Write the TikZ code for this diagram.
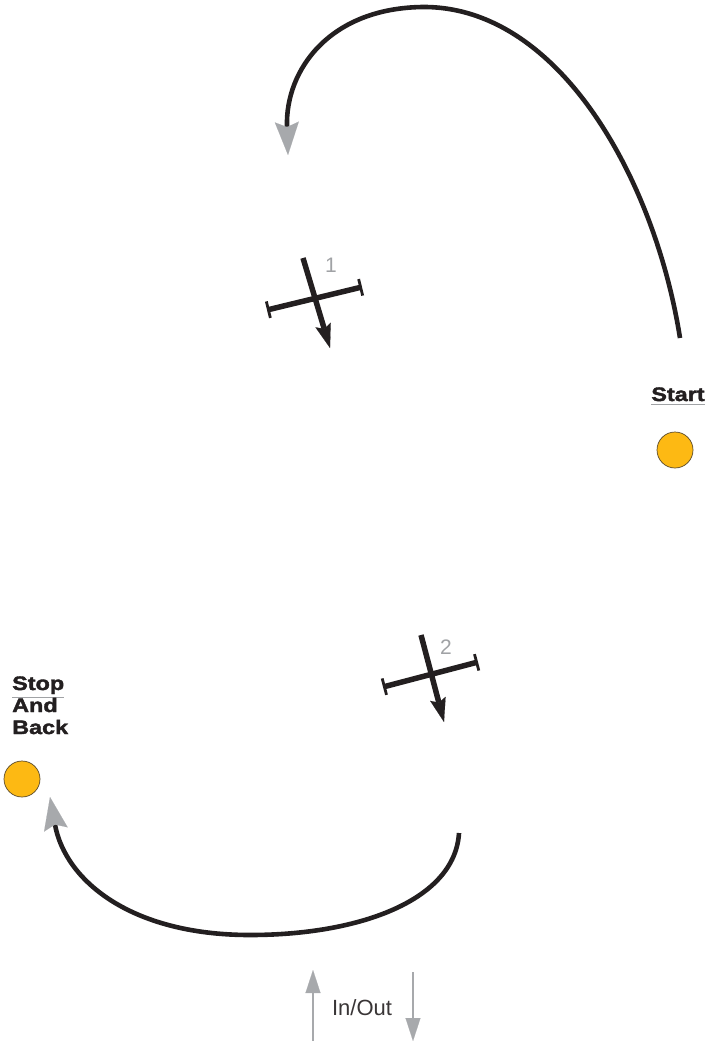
\documentclass[tikz,border=0pt]{standalone}
\usepackage{fontspec}
\setmainfont{Liberation Sans}
\newfontfamily\lblfont[FakeStretch=1.2, BoldFeatures={FakeBold=2}]{Liberation Sans}
\usetikzlibrary{arrows.meta}
\definecolor{curveblack}{HTML}{231F20}
\definecolor{arrgray}{HTML}{A7A9AC}
\definecolor{dotorange}{HTML}{FDB913}
\definecolor{dotedge}{HTML}{5A4A2A}
\definecolor{numgray}{HTML}{A0A2A5}
\tikzset{
  bigcurve/.style={draw=curveblack, line width=4.6pt,
    -{Stealth[length=33pt,width=24pt,inset=5pt,line width=0.1pt,fill=arrgray,color=arrgray]}},
  crossaxis/.style={draw=curveblack, line width=5.5pt,
    -{Stealth[length=24pt,width=16pt,inset=4pt,line width=0.1pt,fill=curveblack,color=curveblack]}},
  crossbar/.style={draw=curveblack, line width=5.5pt,
    {Bar[width=17pt,line width=2.8pt]}-{Bar[width=17pt,line width=2.8pt]}},
  inout/.style={draw=arrgray, line width=2.6pt,
    -{Triangle[length=23pt,width=15pt,line width=0.1pt,fill=arrgray,color=arrgray]}},
  dot/.style={circle, minimum size=36pt, inner sep=0pt, fill=dotorange, draw=dotedge, line width=0.7pt},
  biglabel/.style={font=\lblfont\fontsize{19.5pt}{22pt}\selectfont\bfseries, text=curveblack, inner sep=0pt},
  numlabel/.style={font=\fontsize{21pt}{22pt}\selectfont, text=numgray, inner sep=0pt},
  ulineline/.style={draw=numgray, line width=1.5pt},
}
\begin{document}
\begin{tikzpicture}[x=1pt,y=-1pt]
\useasboundingbox (0,0) rectangle (710,1041);
% top curve
\coordinate (topstart) at (680,338);
\coordinate (toptop) at (425,7);
\coordinate (topend) at (288,155);
\draw[bigcurve] (topstart) .. controls (655,180) and (560,8) .. (toptop)
   .. controls (330,7) and (285,70) .. (topend);
% bottom curve
\coordinate (botstart) at (459,833);
\coordinate (botlow) at (250,935);
\coordinate (botend) at (50,797);
\draw[bigcurve] (botstart) .. controls (455,900) and (360,935) .. (botlow)
   .. controls (130,935) and (65,880) .. (botend);
% cross 1
\coordinate (c1top) at (303,258);
\coordinate (c1tip) at (330,348);
\coordinate (c1left) at (267,310);
\coordinate (c1right) at (362,287);
\draw[crossbar] (c1left) -- (c1right);
\draw[crossaxis] (c1top) -- (c1tip);
\node[numlabel] (n1) at (331,265) {1};
% cross 2
\coordinate (c2top) at (421,635);
\coordinate (c2tip) at (444,722);
\coordinate (c2left) at (383,687);
\coordinate (c2right) at (478,662);
\draw[crossbar] (c2left) -- (c2right);
\draw[crossaxis] (c2top) -- (c2tip);
\node[numlabel] (n2) at (446,647) {2};
% start
\node[biglabel, anchor=base] (start) at (678,401) {Start};
\draw[ulineline] (start.south west) ++(0,3) coordinate (su1) -- (start.south east |- su1) coordinate (su2);
\node[dot] (startdot) at (675,450) {};
% stop
\node[biglabel, anchor=base west] (stop) at (12,690) {Stop};
\draw[ulineline] (stop.south west) ++(0,3) coordinate (tu1) -- (stop.south east |- tu1) coordinate (tu2);
\node[biglabel, anchor=base west] (and) at (12,712) {And};
\node[biglabel, anchor=base west] (back) at (12,734) {Back};
\node[dot] (stopdot) at (22,779) {};
% in/out
\coordinate (upbot) at (313,1041);
\coordinate (uptip) at (313,970);
\coordinate (dntop) at (413,972);
\coordinate (dntip) at (413,1041);
\draw[inout] (upbot) -- (uptip);
\draw[inout] (dntop) -- (dntip);
\node[font=\fontsize{22pt}{24pt}\selectfont, text=curveblack!90, inner sep=0pt, anchor=base] (inoutlbl) at (362,1015) {In/Out};
\end{tikzpicture}
\end{document}
